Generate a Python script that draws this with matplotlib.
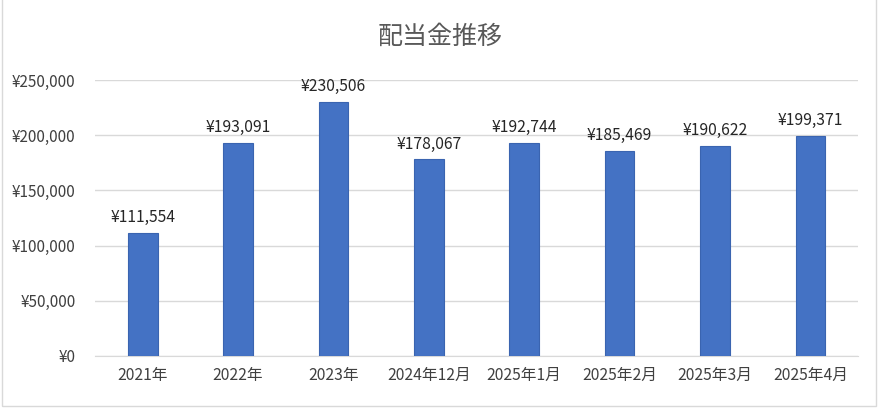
import matplotlib
matplotlib.use("Agg")
import matplotlib.pyplot as plt
from matplotlib.patches import Rectangle

# 配当金推移
labels = ["2021年", "2022年", "2023年", "2024年12月", "2025年1月", "2025年2月", "2025年3月", "2025年4月"]
values = [111554, 193091, 230506, 178067, 192744, 185469, 190622, 199371]
yticks = [0, 50000, 100000, 150000, 200000, 250000]

plt.rcParams['font.family'] = ['Noto Sans CJK JP', 'DejaVu Sans']

fig = plt.figure(figsize=(8.8, 4.09), dpi=100)
ax = fig.add_axes([0.108, 0.1296, 0.867, 0.6748])

xs = list(range(len(values)))
ax.bar(xs, values, width=0.31, color="#4472C4", edgecolor="#3a64b0", linewidth=0.8, zorder=3)

for x, v in zip(xs, values):
	ax.annotate("¥{:,}".format(v), (x, v), xytext=(0, 5), textcoords="offset points",
		ha="center", va="bottom", fontsize=11.3, color="#262626")

ax.set_xlim(-0.5, len(values) - 0.5)
ax.set_ylim(0, 250000)
ax.set_yticks(yticks)
ax.set_yticklabels(["¥{:,}".format(t) for t in yticks], fontsize=11, color="#404040")
ax.set_xticks(xs)
ax.set_xticklabels(labels, fontsize=11.3, color="#404040")
ax.tick_params(length=0, pad=8)
ax.tick_params(axis="y", pad=14)

ax.grid(axis="y", color="#d9d9d9", linewidth=1, zorder=0)
for s in ["top", "right", "left"]:
	ax.spines[s].set_visible(False)
ax.spines["bottom"].set_color("#d9d9d9")

fig.text(0.5, 0.91, "配当金推移", ha="center", va="center", fontsize=18, color="#595959")

# chart area border
fig.patches.append(Rectangle((0.002, 0.008), 0.993, 1.2, transform=fig.transFigure,
	fill=False, edgecolor="#d9d9d9", linewidth=1))

fig.savefig("out.png", dpi=100)
